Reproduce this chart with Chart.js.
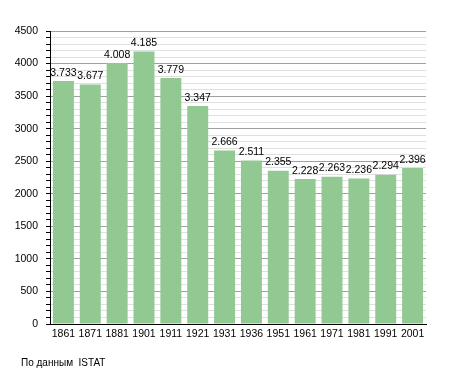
<!DOCTYPE html>
<html><head><meta charset="utf-8">
<script src="https://cdn.jsdelivr.net/npm/chart.js@4"></script>
<style>html,body{margin:0;padding:0;background:#fff}canvas{display:block}</style>
</head><body>
<canvas id="c" width="455" height="373"></canvas>
<script>
const years = ["1861","1871","1881","1901","1911","1921","1931","1936","1951","1961","1971","1981","1991","2001"];
const population = [3733,3677,4008,4185,3779,3347,2666,2511,2355,2228,2263,2236,2294,2396];
const sourceText = "По данным  ISTAT";
const FONT = "Liberation Sans, Arial, sans-serif";

function fmt(v){ return String(v).replace(/\B(?=(\d{3})+(?!\d))/g, "."); }

const labelsPlugin = {
  id: 'labels',
  afterDatasetsDraw(chart){
    const ctx = chart.ctx;
    const meta = chart.getDatasetMeta(0);
    ctx.save();
    ctx.font = "10.5px " + FONT;
    ctx.fillStyle = "#000";
    ctx.textAlign = "center";
    ctx.textBaseline = "bottom";
    meta.data.forEach((bar,i)=>{
      ctx.fillText(fmt(population[i]), bar.x, bar.y - 3);
    });
    ctx.textAlign = "left";
    ctx.textBaseline = "middle";
    ctx.font = "10px " + FONT;
    ctx.fillText(sourceText, 21, 363);
    ctx.restore();
  }
};

new Chart(document.getElementById('c'), {
  type: 'bar',
  data: { labels: years, datasets: [{ data: population, backgroundColor: 'rgb(146,200,146)', borderWidth: 0, barPercentage: 0.78, categoryPercentage: 1.0 }] },
  options: {
    responsive: false, animation: false, devicePixelRatio: 1,
    layout: { padding: { left: 0, right: 29, top: 31, bottom: 0 } },
    plugins: { legend: { display: false }, tooltip: { enabled: false } },
    scales: {
      x: {
        grid: { display: false, drawTicks: false },
        border: { color: '#000', width: 1 },
        ticks: { color: '#000', font: { size: 10.5, family: FONT }, maxRotation: 0, autoSkip: false, padding: 4 },
        afterFit(s){ s.height = 49; }
      },
      y: {
        min: 0, max: 4500,
        grid: {
          color: c => (c.tick && c.tick.value % 500 === 0) ? '#a0a0a0' : '#e0e0e0',
          tickColor: '#000', tickLength: 4, drawOnChartArea: true
        },
        border: { color: '#000', width: 1 },
        ticks: {
          stepSize: 100, autoSkip: false, color: '#000', font: { size: 10.5, family: FONT }, padding: 8,
          callback: v => (v % 500 === 0) ? String(v) : ''
        },
        afterFit(s){ s.width = 50; }
      }
    }
  },
  plugins: [labelsPlugin]
});
</script>
</body></html>
